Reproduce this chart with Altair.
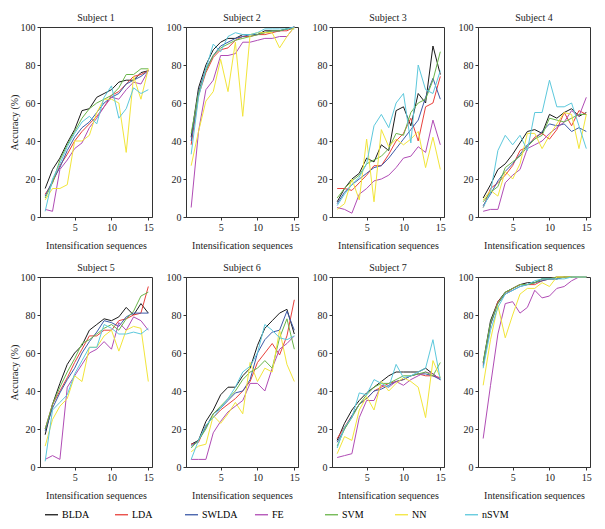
import altair as alt
import pandas as pd

methods = ["BLDA", "LDA", "SWLDA", "FE", "SVM", "NN", "nSVM"]
colors = ["#1a1a1a", "#e8413c", "#3d5aa8", "#b04cb5", "#6ab54a", "#f2e53a", "#5cc8dc"]
seqs = list(range(1, 16))

s1 = {
    "BLDA": [15, 25, 31, 39, 46, 56, 57, 63, 65, 67, 71, 72, 72, 76, 77],
    "LDA": [12, 18, 27, 33, 40, 45, 49, 53, 58, 64, 66, 70, 74, 75, 77],
    "SWLDA": [11, 19, 26, 35, 42, 47, 50, 55, 60, 63, 65, 70, 72, 74, 77],
    "FE": [4, 3, 25, 30, 36, 39, 47, 52, 58, 63, 62, 67, 71, 70, 77],
    "SVM": [10, 18, 30, 38, 45, 52, 57, 60, 62, 64, 68, 75, 75, 78, 78],
    "NN": [9, 15, 15, 17, 40, 40, 43, 55, 62, 62, 60, 34, 74, 62, 78],
    "nSVM": [3, 20, 28, 37, 44, 50, 53, 49, 63, 69, 52, 57, 68, 65, 67],
}
s2 = {
    "BLDA": [42, 68, 80, 88, 92, 94, 94, 96, 96, 96, 98, 98, 98, 99, 100],
    "LDA": [38, 64, 76, 84, 88, 89, 93, 95, 95, 96, 96, 97, 98, 98, 100],
    "SWLDA": [40, 66, 78, 85, 90, 92, 94, 95, 96, 96, 97, 98, 98, 99, 100],
    "FE": [5, 45, 67, 72, 85, 85, 86, 92, 92, 93, 94, 94, 95, 95, 100],
    "SVM": [44, 65, 77, 85, 89, 91, 93, 94, 95, 96, 97, 98, 98, 99, 99],
    "NN": [27, 45, 61, 66, 83, 66, 92, 53, 96, 97, 97, 97, 89, 95, 100],
    "nSVM": [33, 63, 78, 91, 87, 95, 97, 96, 96, 97, 99, 99, 99, 99, 100],
}
s3 = {
    "BLDA": [8, 15, 20, 23, 31, 29, 38, 35, 56, 58, 48, 65, 60, 90, 75],
    "LDA": [15, 15, 14, 18, 22, 27, 27, 33, 40, 44, 52, 40, 58, 60, 74],
    "SWLDA": [7, 13, 17, 20, 23, 26, 27, 31, 36, 41, 46, 51, 63, 73, 62],
    "FE": [5, 4, 2, 12, 15, 19, 20, 22, 26, 31, 32, 37, 34, 51, 38],
    "SVM": [10, 15, 19, 22, 28, 30, 32, 36, 44, 43, 55, 60, 62, 72, 87],
    "NN": [4, 7, 20, 9, 41, 8, 46, 37, 41, 38, 41, 45, 26, 42, 25],
    "nSVM": [6, 12, 17, 21, 28, 48, 54, 47, 60, 65, 39, 80, 67, 65, 77],
}
s4 = {
    "BLDA": [10, 17, 25, 28, 33, 39, 45, 46, 44, 54, 52, 55, 57, 53, 55],
    "LDA": [5, 15, 18, 22, 27, 35, 37, 42, 44, 41, 46, 55, 48, 56, 54],
    "SWLDA": [6, 12, 19, 24, 28, 33, 38, 41, 45, 49, 48, 49, 45, 47, 45],
    "FE": [3, 4, 4, 18, 22, 25, 36, 38, 40, 44, 47, 50, 56, 53, 63],
    "SVM": [8, 13, 16, 26, 29, 32, 37, 41, 43, 52, 51, 50, 52, 54, 54],
    "NN": [9, 14, 11, 24, 20, 28, 44, 44, 36, 43, 49, 55, 54, 36, 54],
    "nSVM": [5, 13, 35, 43, 38, 43, 35, 55, 55, 72, 58, 58, 60, 48, 36],
}
s5 = {
    "BLDA": [17, 33, 44, 54, 60, 64, 72, 75, 78, 77, 79, 84, 80, 86, 81],
    "LDA": [20, 33, 40, 47, 55, 62, 69, 69, 72, 72, 77, 78, 80, 81, 95],
    "SWLDA": [19, 31, 39, 46, 52, 60, 66, 71, 77, 76, 74, 79, 81, 81, 81],
    "FE": [4, 6, 4, 42, 48, 54, 60, 62, 66, 62, 76, 72, 79, 77, 72],
    "SVM": [20, 33, 42, 50, 57, 65, 67, 70, 73, 75, 72, 78, 82, 90, 92],
    "NN": [11, 25, 32, 36, 48, 45, 63, 63, 69, 72, 61, 72, 74, 73, 45],
    "nSVM": [3, 30, 34, 38, 49, 56, 63, 63, 75, 73, 70, 70, 71, 70, 73],
}
s6 = {
    "BLDA": [12, 14, 24, 30, 38, 42, 42, 48, 52, 64, 73, 77, 81, 83, 70],
    "LDA": [12, 13, 22, 26, 30, 33, 36, 40, 45, 55, 60, 65, 59, 69, 88],
    "SWLDA": [11, 14, 21, 28, 31, 35, 39, 40, 46, 60, 67, 71, 72, 82, 72],
    "FE": [4, 4, 4, 18, 24, 29, 32, 35, 44, 44, 40, 52, 62, 65, 69],
    "SVM": [10, 14, 20, 28, 32, 36, 40, 46, 50, 52, 56, 52, 68, 78, 62],
    "NN": [8, 11, 12, 27, 23, 28, 34, 28, 55, 45, 52, 50, 72, 54, 45],
    "nSVM": [4, 14, 22, 26, 31, 36, 42, 50, 53, 60, 75, 72, 68, 67, 69],
}
s7 = {
    "BLDA": [14, 23, 30, 35, 39, 42, 45, 48, 50, 50, 50, 50, 52, 49, 46],
    "LDA": [15, 21, 27, 33, 36, 40, 42, 44, 45, 46, 48, 49, 48, 48, 47],
    "SWLDA": [13, 20, 27, 33, 36, 40, 41, 43, 45, 46, 48, 49, 49, 48, 46],
    "FE": [5, 6, 7, 26, 35, 35, 43, 42, 45, 43, 46, 48, 50, 49, 46],
    "SVM": [11, 20, 26, 33, 38, 42, 44, 44, 46, 48, 48, 49, 50, 48, 55],
    "NN": [7, 16, 14, 30, 37, 30, 45, 40, 44, 47, 45, 42, 26, 56, 47],
    "nSVM": [10, 21, 26, 39, 38, 46, 44, 42, 54, 47, 48, 50, 52, 67, 46],
}
s8 = {
    "BLDA": [55, 77, 87, 92, 94, 96, 97, 97, 99, 99, 99, 100, 100, 100, 100],
    "LDA": [54, 75, 87, 91, 94, 96, 96, 96, 98, 99, 100, 100, 100, 100, 100],
    "SWLDA": [53, 75, 86, 91, 93, 95, 96, 97, 98, 99, 99, 100, 100, 100, 100],
    "FE": [15, 43, 70, 86, 87, 81, 84, 93, 89, 90, 94, 95, 98, 100, 100],
    "SVM": [55, 76, 86, 92, 94, 96, 96, 97, 99, 99, 100, 100, 100, 100, 100],
    "NN": [43, 67, 85, 68, 80, 91, 94, 94, 97, 95, 100, 100, 100, 100, 100],
    "nSVM": [52, 72, 84, 91, 93, 95, 96, 98, 99, 99, 99, 99, 100, 100, 100],
}
subjects = [s1, s2, s3, s4, s5, s6, s7, s8]

FONT = "Liberation Serif, DejaVu Serif, serif"


def panel(idx, data, first_col):
    rows = []
    for m in methods:
        for s, v in zip(seqs, data[m]):
            rows.append({"seq": s, "acc": v, "method": m, "ord": methods.index(m)})
    df = pd.DataFrame(rows)
    yaxis_kw = dict(values=[0, 20, 40, 60, 80, 100], tickSize=3, labelPadding=2, titlePadding=1)
    if first_col:
        yaxis_kw["title"] = "Accuracy (%)"
    else:
        yaxis_kw["title"] = None
    return (
        alt.Chart(df, title=f"Subject {idx}")
        .mark_line(strokeWidth=1)
        .encode(
            x=alt.X("seq:Q", scale=alt.Scale(domain=[0.3, 15.5], nice=False),
                    axis=alt.Axis(values=[5, 10, 15], title="Intensification sequences",
                                  tickSize=3, labelPadding=2, titlePadding=8)),
            y=alt.Y("acc:Q", scale=alt.Scale(domain=[0, 100], nice=False),
                    axis=alt.Axis(**yaxis_kw)),
            color=alt.Color("method:N", scale=alt.Scale(domain=methods, range=colors),
                            legend=alt.Legend(title=None, orient="none", legendX=4, legendY=480,
                                              direction="horizontal", columns=7, gridAlign="all",
                                              symbolType="stroke", symbolStrokeWidth=1.3,
                                              symbolSize=170, columnPadding=14, labelOffset=3,
                                              labelFontSize=10, labelFont=FONT)),
            detail="method:N",
            order=alt.Order("ord:Q"),
        )
        .properties(width=112, height=190)
    )


panels = [panel(i + 1, d, i % 4 == 0) for i, d in enumerate(subjects)]
row1 = alt.hconcat(*panels[:4], spacing=11)
row2 = alt.hconcat(*panels[4:], spacing=11)
chart = (
    alt.vconcat(row1, row2, spacing=11)
    .configure_view(stroke="#333", strokeWidth=1)
    .configure_axis(labelFont=FONT, titleFont=FONT, labelFontSize=10, titleFontSize=10,
                    titleFontWeight="normal", grid=False, domainColor="#333", tickColor="#333",
                    labelColor="#222", titleColor="#222")
    .configure_title(font=FONT, fontSize=10, fontWeight="normal", color="#222", offset=-1)
    .properties(padding={"left": 0, "top": 4, "right": 0, "bottom": 0})
)

chart.save("out.html", embed_options={"renderer": "svg", "actions": False})
